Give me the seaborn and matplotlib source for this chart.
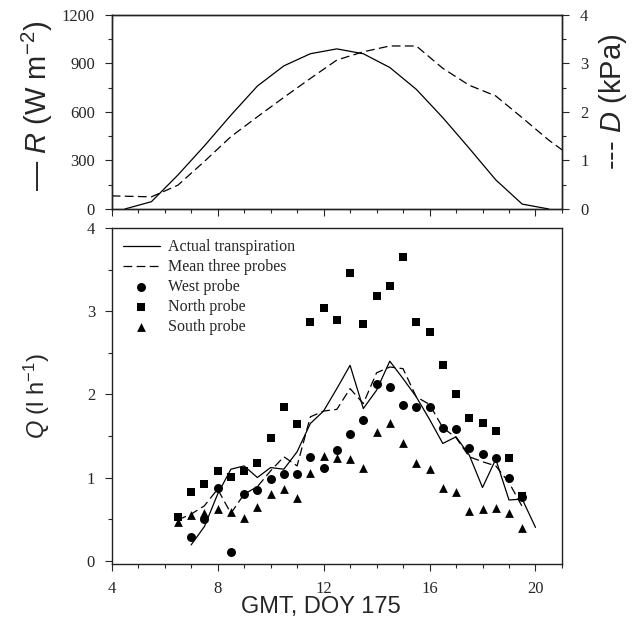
import matplotlib
matplotlib.use("Agg")
import matplotlib.pyplot as plt
import seaborn as sns
import pandas as pd
from matplotlib.ticker import MultipleLocator

# ---------------- data ----------------
# Top panel: radiation R (W m-2) and vapour pressure deficit D (kPa)
r_hours = [4.5, 5.5, 6.5, 7.5, 8.5, 9.5, 10.5, 11.5, 12.5, 13.5, 14.5, 15.5, 16.5, 17.5, 18.5, 19.5, 20.5]
r_values = [0, 45, 210, 390, 580, 760, 885, 960, 990, 960, 875, 740, 565, 375, 180, 30, 0]

d_hours = [4.0, 5.5, 6.5, 7.5, 8.5, 9.5, 10.5, 11.5, 12.5, 13.5, 14.5, 15.5, 16.5, 17.5, 18.5, 19.5, 20.5, 21.0]
d_values = [0.27, 0.25, 0.49, 0.98, 1.49, 1.90, 2.30, 2.69, 3.07, 3.24, 3.36, 3.36, 2.90, 2.55, 2.33, 1.88, 1.42, 1.22]

# Bottom panel: sap flow Q (l h-1)
act_hours = [7.0, 7.5, 8.0, 8.5, 9.0, 9.5, 10.0, 10.5, 11.0, 11.5, 12.0, 12.5, 13.0, 13.5,
             14.0, 14.5, 15.0, 15.5, 16.0, 16.5, 17.0, 17.5, 18.0, 18.5, 19.0, 19.5, 20.0]
act_values = [0.19, 0.41, 0.80, 1.10, 1.14, 1.00, 1.12, 1.10, 1.31, 1.65, 1.80, 2.07, 2.35, 1.83,
              2.05, 2.40, 2.19, 1.97, 1.70, 1.41, 1.49, 1.27, 0.88, 1.22, 0.73, 0.74, 0.40]

probe_hours = [6.5, 7.0, 7.5, 8.0, 8.5, 9.0, 9.5, 10.0, 10.5, 11.0, 11.5, 12.0, 12.5, 13.0,
               13.5, 14.0, 14.5, 15.0, 15.5, 16.0, 16.5, 17.0, 17.5, 18.0, 18.5, 19.0, 19.5]
mean_values = [0.49, 0.56, 0.66, 0.86, 0.57, 0.80, 0.89, 1.08, 1.25, 1.14, 1.73, 1.80, 1.82, 2.07,
               1.89, 2.26, 2.33, 2.31, 1.97, 1.88, 1.60, 1.48, 1.25, 1.19, 1.14, 0.94, 0.65]
north_values = [0.52, 0.83, 0.92, 1.08, 1.01, 1.08, 1.18, 1.47, 1.85, 1.64, 2.87, 3.04, 2.89, 3.46,
                2.85, 3.18, 3.30, 3.65, 2.87, 2.75, 2.35, 2.01, 1.72, 1.66, 1.56, 1.24, 0.78]
south_values = [0.46, 0.55, 0.57, 0.62, 0.59, 0.51, 0.64, 0.80, 0.86, 0.75, 1.06, 1.26, 1.23, 1.22,
                1.12, 1.55, 1.66, 1.41, 1.18, 1.10, 0.88, 0.82, 0.60, 0.62, 0.63, 0.57, 0.39]

west_hours = [7.0, 7.5, 8.0, 8.5, 9.0, 9.5, 10.0, 10.5, 11.0, 11.5, 12.0, 12.5, 13.0, 13.5,
              14.0, 14.5, 15.0, 15.5, 16.0, 16.5, 17.0, 17.5, 18.0, 18.5, 19.0, 19.5]
west_values = [0.29, 0.50, 0.88, 0.11, 0.80, 0.85, 0.98, 1.04, 1.04, 1.25, 1.11, 1.33, 1.52, 1.69,
               2.12, 2.09, 1.87, 1.85, 1.85, 1.60, 1.58, 1.36, 1.28, 1.23, 1.00, 0.77]

x_ticks = [4, 8, 12, 16, 20]
r_ticks = [0, 300, 600, 900, 1200]
d_ticks = [0, 1, 2, 3, 4]
q_ticks = [0, 1, 2, 3, 4]

# ---------------- style ----------------
sns.set_style("ticks")
plt.rcParams["font.family"] = ["Liberation Serif", "DejaVu Serif"]
plt.rcParams["mathtext.fontset"] = "custom"
plt.rcParams["mathtext.rm"] = "Liberation Sans"
plt.rcParams["mathtext.it"] = "Liberation Sans:italic"
plt.rcParams["mathtext.bf"] = "Liberation Sans:bold"
plt.rcParams["axes.edgecolor"] = "#222222"
plt.rcParams["axes.linewidth"] = 1.0

LABEL_FONT = dict(family="Liberation Sans", size=17)
TOP_LABEL_FONT = dict(family="Liberation Sans", size=21)
TICK_SIZE = 12
dash_style = (0, (7, 3.5))

fig = plt.figure(figsize=(6.32, 6.30), dpi=100)
ax1 = fig.add_axes([0.1767, 0.6683, 0.7125, 0.308])
ax1r = ax1.twinx()
ax2 = fig.add_axes([0.1767, 0.1048, 0.7125, 0.533])

# ---------------- top panel ----------------
top_r = pd.DataFrame({"hour": r_hours, "R": r_values})
top_d = pd.DataFrame({"hour": d_hours, "D": d_values})
sns.lineplot(data=top_r, x="hour", y="R", ax=ax1, color="black", linewidth=0.9)
sns.lineplot(data=top_d, x="hour", y="D", ax=ax1r, color="black", linewidth=0.9,
             linestyle=dash_style)

ax1.set_xlim(4, 21)
ax1.set_ylim(0, 1200)
ax1r.set_ylim(0, 4)
ax1.set_xticks(x_ticks)
ax1.xaxis.set_minor_locator(MultipleLocator(1))
ax1.set_yticks(r_ticks)
ax1.yaxis.set_minor_locator(MultipleLocator(150))
ax1r.set_yticks(d_ticks)
ax1r.yaxis.set_minor_locator(MultipleLocator(0.5))
ax1.tick_params(axis="x", which="both", labelbottom=False, direction="out")
ax1.tick_params(which="major", length=5, width=0.8, labelsize=TICK_SIZE, pad=7)
ax1.tick_params(which="minor", length=3, width=0.8)
ax1r.tick_params(which="major", length=5, width=0.8, labelsize=TICK_SIZE, pad=8)
ax1r.tick_params(which="minor", length=3, width=0.8)
ax1.set_xlabel("")
ax1.set_ylabel(r"— $R$ (W m$^{-2}$)", **TOP_LABEL_FONT)
ax1.yaxis.set_label_coords(-0.125, 0.53)
ax1r.set_ylabel(r"--- $D$ (kPa)", **TOP_LABEL_FONT)
ax1r.yaxis.set_label_coords(1.077, 0.55)
for sp in ax1r.spines.values():
    sp.set_visible(True)

# ---------------- bottom panel ----------------
act = pd.DataFrame({"hour": act_hours, "Q": act_values})
probes = pd.DataFrame({"hour": probe_hours, "mean": mean_values,
                       "north": north_values, "south": south_values})
west = pd.DataFrame({"hour": west_hours, "west": west_values})

sns.lineplot(data=act, x="hour", y="Q", ax=ax2, color="black", linewidth=0.9,
             label="Actual transpiration")
sns.lineplot(data=probes, x="hour", y="mean", ax=ax2, color="black", linewidth=0.9,
             linestyle=dash_style, label="Mean three probes")
sns.scatterplot(data=west, x="hour", y="west", ax=ax2, marker="o", s=42,
                color="black", edgecolor="black", linewidth=0, label="West probe", zorder=3)
sns.scatterplot(data=probes, x="hour", y="north", ax=ax2, marker="s", s=30,
                color="black", edgecolor="black", linewidth=0, label="North probe", zorder=3)
sns.scatterplot(data=probes, x="hour", y="south", ax=ax2, marker="^", s=40,
                color="black", edgecolor="black", linewidth=0, label="South probe", zorder=3)

ax2.set_xlim(4, 21)
ax2.set_ylim(-0.04, 4.0)
ax2.set_xticks(x_ticks)
ax2.xaxis.set_minor_locator(MultipleLocator(1))
ax2.set_yticks(q_ticks)
ax2.yaxis.set_minor_locator(MultipleLocator(0.5))
ax2.tick_params(which="major", length=5, width=0.8, labelsize=TICK_SIZE, pad=7)
ax2.tick_params(axis="x", which="major", pad=7)
ax2.tick_params(which="minor", length=3, width=0.8)
ax2.set_xlabel("GMT, DOY 175", **LABEL_FONT)
ax2.xaxis.set_label_coords(0.465, -0.096)
ax2.set_ylabel(r"$Q$ (l h$^{-1}$)", **LABEL_FONT)
ax2.yaxis.set_label_coords(-0.133, 0.5)

leg = ax2.legend(loc="upper left", frameon=False,
                 prop={"family": "Liberation Serif", "size": 11.5},
                 handlelength=2.3, handletextpad=0.55, labelspacing=0.25,
                 borderaxespad=0.4, borderpad=0.3)

fig.savefig("out.png", dpi=100)
